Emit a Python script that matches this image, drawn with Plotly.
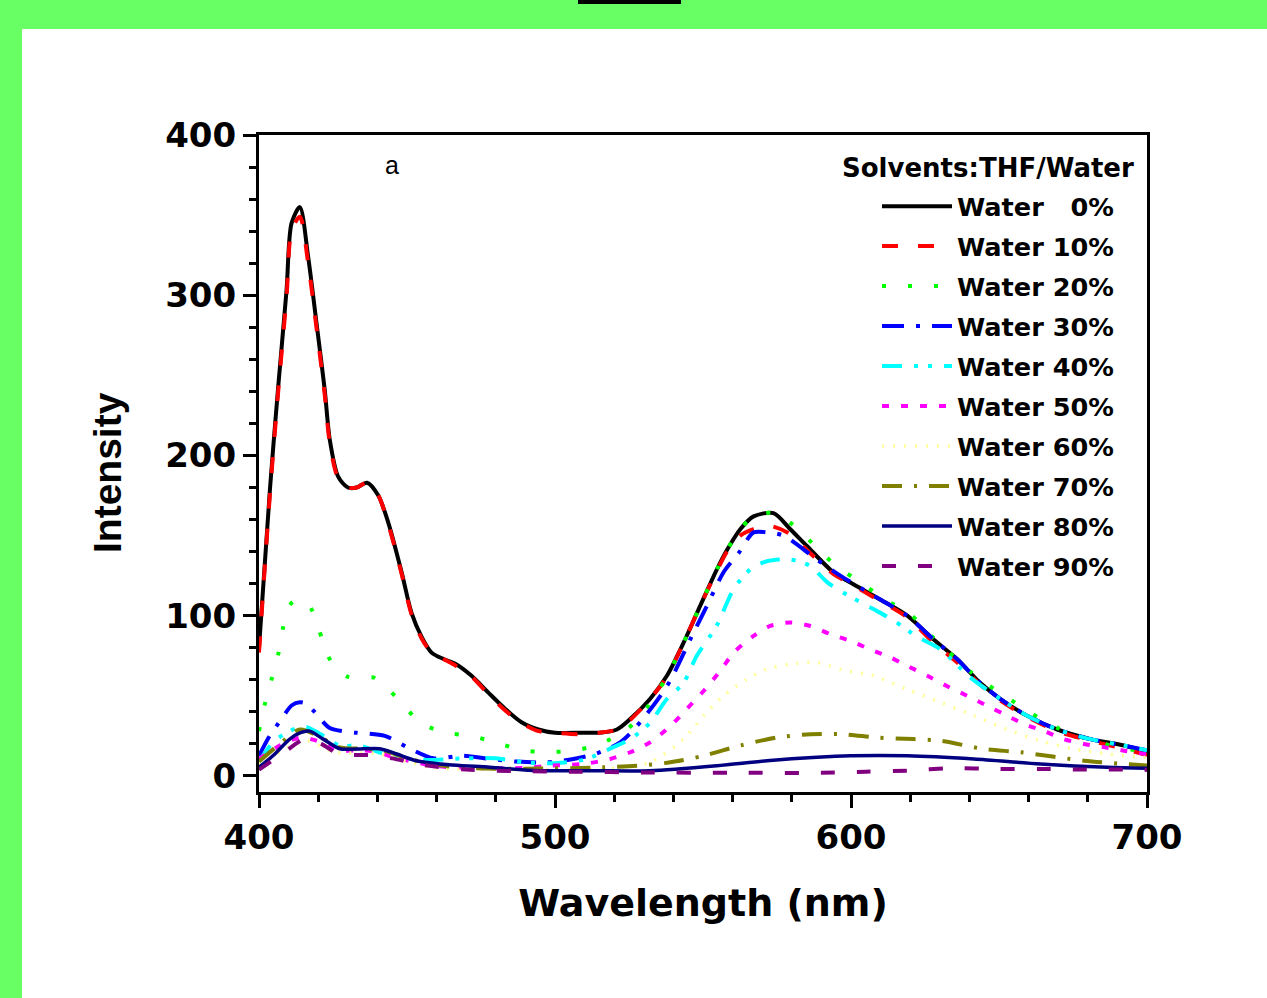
import plotly.graph_objects as go

# ---------------- data ----------------
w0_x = [400, 403.7, 406.4, 409.3, 411, 413.8, 416.6, 419.4, 422.2, 423.9, 426.7, 430, 433, 436.5, 440.3,
        443.7, 448.2, 451.5, 454.9, 458.3, 462.3, 466.3, 471.8, 477.5, 483.1, 488.7, 494.4, 500, 509.6, 515,
        520.9, 525.4, 532.1, 537.8, 543.4, 549, 554.7, 558.1, 562.6, 567.1, 573.8, 579.5, 585.1, 594.1, 599.8,
        610, 619, 628, 635.8, 643.7, 650.5, 659.5, 669.7, 680.9, 692.2, 700]
w0_y = [80, 179, 241, 303, 345, 355, 324, 283, 241, 210, 187, 180, 180, 183, 175,
        158, 127, 102, 87, 77, 73, 70, 62.5, 52, 42, 33.5, 29, 27, 27, 27,
        29, 35.5, 48, 62.5, 83, 106, 129, 141, 154, 162, 164, 154, 143.5, 127, 120.7,
        110, 100, 85, 73, 58, 48, 37.6, 29, 23, 19, 15]

w10_x = [400, 403.7, 406.4, 409.3, 411, 413.8, 416.6, 419.4, 422.2, 423.9, 426.7, 430, 433, 436.5, 440.3,
         443.7, 448.2, 451.5, 454.9, 458.3, 462.3, 466.3, 471.8, 477.5, 483.1, 488.7, 494.4, 500, 509.6, 515,
         520.9, 525.4, 532.1, 537.8, 543.4, 549, 554.7, 558.1, 562.6, 567.1, 572.7, 579.5, 585.1, 594.1, 599.8,
         610, 619, 628, 635.8, 643.7, 650.5, 659.5, 669.7, 680.9, 692.2, 700]
w10_y = [77, 176, 238, 299, 340, 349, 320, 280, 238, 208, 186, 180, 180, 183, 175,
         157, 126, 101, 86, 77, 73, 69, 62, 51, 41, 33, 28, 27, 26, 27,
         29, 35, 48, 62, 83, 106, 128, 140, 150, 154, 156, 151, 141, 126, 120,
         109, 99, 83, 71, 57, 47, 37, 28, 22, 17, 13]

w20_x = [400, 402, 404.2, 406.5, 408.2, 411, 413.5, 416.8, 420.3, 423.3, 426.5, 429.9, 434, 438.6, 442.5,
         447, 454.7, 463.1, 471.8, 480.6, 489.3, 498.1, 506.8, 515.2, 524.2, 530, 537.8, 543.4, 549, 554.7,
         558.1, 562.6, 567.1, 573.8, 582.3, 589, 595.9, 603, 611.6, 620, 628, 635, 643, 652.8, 661, 669.7,
         680, 690, 700]
w20_y = [28, 45, 60, 76, 93, 108, 110, 107, 91, 75, 66, 62, 61, 61.5, 56,
         48, 33, 27, 25, 20.5, 16, 15, 16, 20, 29, 40, 62, 83, 106, 129,
         141, 154, 162, 164, 154, 141, 130, 121, 110, 101, 86, 74, 61, 49, 39, 30,
         23, 18, 15]

w30_x = [400, 403.6, 407.6, 411, 413.8, 416, 418.8, 423.9, 432.9, 442.5, 451, 458.9, 468.5, 478.1, 487,
         497.2, 506.2, 514, 522, 527.6, 537.8, 546.8, 551.3, 556.9, 562, 567.1, 571.6, 577.2, 588.5, 596.4,
         610, 619, 628, 635.8, 643.7, 650.5, 659.5, 669.7, 680.9, 692.2, 700]
w30_y = [12.6, 25, 35.5, 44, 46, 45, 40, 30, 27, 25, 17, 11, 12.6, 10.6, 9,
         8.5, 10.6, 14, 21, 31, 56, 89.5, 106, 127, 139, 152, 152, 150, 135, 125,
         110, 100, 85, 73, 58, 48, 37.6, 29, 23, 19, 16]

w40_x = [400, 404.7, 410.4, 414.9, 420, 427.3, 434, 444.2, 455, 470, 480, 490, 500, 510.7, 519.7,
         525.4, 532, 537.8, 543.4, 547.9, 554.7, 560.3, 566, 571.6, 579.5, 586.3, 591.9, 598.7, 607.7, 614.4,
         622.3, 630.2, 640, 650.5, 659.5, 669.7, 680.9, 692.2, 700]
w40_y = [8.7, 21, 28, 31, 27, 19, 19, 12.6, 10, 11, 11, 8.5, 8, 10.6, 18,
         23, 33, 48, 58, 75, 94, 116.5, 129, 134, 135, 131, 121, 113, 104, 97,
         87, 79, 62, 48, 37.6, 29, 23, 19, 16]

w50_x = [400, 407, 411, 414.9, 419.4, 427.3, 435, 440, 445, 459, 472, 490, 498.3, 509.6, 518.6,
         525.4, 532.1, 538.9, 544.6, 550.2, 555.8, 560.4, 567.1, 572.7, 579.5, 586.3, 593, 599.8, 606.5, 613.3,
         619, 625.8, 632.5, 639.3, 646, 651.7, 658.4, 665.2, 671.9, 678.7, 685.4, 692.2, 700]
w50_y = [10.6, 19, 22.5, 24, 22, 16, 16, 15, 12, 6.4, 5, 5, 6.4, 7.5, 10.6,
         14.8, 21, 31, 42, 53, 65.6, 77, 87.4, 93.6, 95.8, 93.6, 88.5, 84.3, 79, 74,
         68.7, 62.5, 56, 50, 43.8, 38.6, 32.4, 28, 23, 20, 18, 15.8, 13.5]

w60_x = [400, 408, 416, 425, 440, 450, 460, 480, 500, 520, 532, 543.4, 550.2, 556.9, 564.8,
         571.6, 579.5, 588.5, 597.5, 607.7, 619, 630.2, 641.5, 652.8, 664, 675.3, 686.6, 697.9, 700]
w60_y = [7, 16, 22, 15, 14, 9, 5, 4, 4, 5, 8.5, 23, 37.6, 50, 60.4,
         66.7, 69.8, 70.8, 66, 62.5, 54, 46, 37.6, 29, 22, 16.8, 13.7, 11.7, 11.5]

w70_x = [400, 407, 413.8, 420, 427, 435, 442, 450, 460, 470, 490, 516.3, 527.6, 538.9, 550.2,
         562.6, 575, 586.3, 597.5, 608.8, 621.2, 630, 645, 657.4, 678.7, 692.2, 700]
w70_y = [9, 20, 29, 25, 18, 17, 16, 11, 7, 5, 4.5, 5.4, 6.4, 8.5, 12.6,
         19, 24, 26, 26, 24, 23, 22, 16.8, 14.8, 9.5, 7.5, 6.5]

w80_x = [400, 404.7, 410.4, 414, 417.1, 421.7, 427.3, 432.9, 440.8, 446.5, 453.2, 461.1, 478, 495, 512,
         532, 554.7, 571.6, 588.5, 599.8, 619, 641.5, 664, 686.6, 700]
w80_y = [5.4, 12.6, 23, 27, 28, 23, 17, 16.8, 17, 13.7, 9.5, 7.5, 5.4, 3.3, 3.3,
         3.3, 6.4, 9.5, 11.7, 12.6, 12.6, 10.6, 7.5, 5.4, 4.8]

w90_x = [400, 408, 415.5, 421, 427, 438, 445, 455, 470, 490, 505, 530, 560, 590, 605,
         619, 633.6, 650, 664, 680, 692, 700]
w90_y = [4, 14, 23, 20, 13.7, 13, 11, 7, 4, 3, 2.7, 2.2, 2, 2, 2.7,
         3.3, 4.8, 4.4, 4.4, 4, 4, 3.8]

series_names = ["Water\u00a0\u00a0\u00a00%", "Water 10%", "Water 20%", "Water 30%", "Water 40%",
                "Water 50%", "Water 60%", "Water 70%", "Water 80%", "Water 90%"]
series_x = [w0_x, w10_x, w20_x, w30_x, w40_x, w50_x, w60_x, w70_x, w80_x, w90_x]
series_y = [w0_y, w10_y, w20_y, w30_y, w40_y, w50_y, w60_y, w70_y, w80_y, w90_y]

legend_title = "Solvents:THF/Water"
panel_label = "a"
x_title = "Wavelength (nm)"
y_title = "Intensity"
x_ticks = [400, 500, 600, 700]
y_ticks = [0, 100, 200, 300, 400]

# ---------------- styles ----------------
colors = ["#000000", "#ff0000", "#00ff00", "#0000ff", "#00ffff",
          "#ff00ff", "#ffff99", "#808000", "#000080", "#800080"]
dashes = ["solid", "16px,20px", "4px,22px", "22px,12px,4px,12px", "20px,12px,4px,10px,4px,12px",
          "7px,12px", "2px,9px", "20px,12px,3px,12px", "solid", "14px,22px"]
widths = [4, 4, 4, 4, 4, 4, 3.5, 4, 3.5, 4]

BOLD = "DejaVu Sans"

fig = go.Figure()
for i in range(len(series_names)):
    fig.add_trace(go.Scatter(
        x=series_x[i], y=series_y[i], mode="lines", name=series_names[i],
        legendgroup=f"g{i}",
        line=dict(color=colors[i], dash=dashes[i], width=widths[i], shape="spline", smoothing=0.8),
    ))

L, R, T, B = 259, 120, 135, 206
W, H = 1267, 998
pw = W - L - R
ph = H - T - B

def px(xp):
    return (xp - L) / pw

def py(yp):
    return (H - B - yp) / ph

fig.update_layout(
    width=W, height=H,
    margin=dict(l=L, r=R, t=T, b=B, pad=0),
    paper_bgcolor="#68ff65",
    plot_bgcolor="#ffffff",
    showlegend=True,
    legend=dict(
        x=px(1119), xanchor="right", y=py(183), yanchor="top",
        bgcolor="rgba(0,0,0,0)",
        font=dict(family=BOLD, size=25.6, color="#000000", weight="bold"),
        itemwidth=70,
        tracegroupgap=3.7,
    ),
    xaxis=dict(
        range=[400, 700], tickvals=x_ticks, ticktext=[str(v) for v in x_ticks],
        showgrid=False, zeroline=False,
        showline=True, linecolor="#000000", linewidth=3, mirror=True,
        ticks="outside", ticklen=13, tickwidth=3, tickcolor="#000000",
        minor=dict(dtick=20, tick0=400, ticks="outside", ticklen=7, tickwidth=2.5, tickcolor="#000000", showgrid=False),
        tickfont=dict(family=BOLD, size=34, color="#000000", weight="bold"),
        title=dict(text=x_title, standoff=34,
                   font=dict(family=BOLD, size=38, color="#000000", weight="bold")),
    ),
    yaxis=dict(
        range=[-10, 400], tickvals=y_ticks, ticktext=[str(v) for v in y_ticks],
        showgrid=False, zeroline=False,
        showline=True, linecolor="#000000", linewidth=3, mirror=True,
        ticks="outside", ticklen=13, tickwidth=3, tickcolor="#000000",
        minor=dict(dtick=20, tick0=0, ticks="outside", ticklen=7, tickwidth=2.5, tickcolor="#000000", showgrid=False),
        tickfont=dict(family=BOLD, size=34, color="#000000", weight="bold"),
    ),
    shapes=[
        dict(type="rect", xref="paper", yref="paper", layer="below",
             x0=px(22), x1=px(1300), y0=py(1050), y1=py(29),
             fillcolor="#ffffff", line=dict(width=0)),
        dict(type="rect", xref="paper", yref="paper", layer="below",
             x0=px(578), x1=px(681), y0=py(4), y1=py(-20),
             fillcolor="#000000", line=dict(width=0)),
    ],
    annotations=[
        dict(x=445, y=381, xref="x", yref="y", text=panel_label, showarrow=False,
             font=dict(family="Liberation Sans", size=25, color="#000000")),
        dict(x=px(987.5), y=py(168), xref="paper", yref="paper", text=legend_title, showarrow=False,
             xanchor="center", yanchor="middle",
             font=dict(family=BOLD, size=26, color="#000000", weight="bold")),
        dict(x=px(107), y=py(473), xref="paper", yref="paper", text=y_title, showarrow=False,
             textangle=-90, xanchor="center", yanchor="middle",
             font=dict(family="Liberation Sans", size=39, color="#000000", weight="bold")),
    ],
)

fig.write_html("out.html", config={"displayModeBar": False},
               post_script="document.body.style.margin='0';document.body.style.overflow='hidden';")
